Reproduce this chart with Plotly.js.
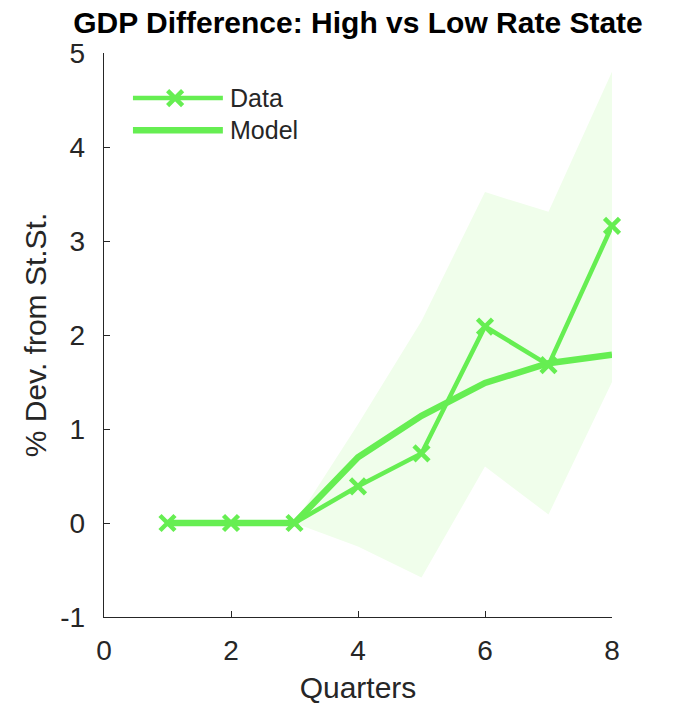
<!DOCTYPE html>
<html>
<head>
<meta charset="utf-8">
<script src="https://cdn.plot.ly/plotly-3.0.1.min.js"></script>
<style>html,body{margin:0;padding:0;background:#fff;}#chart{width:679px;height:704px;}</style>
</head>
<body>
<div id="chart"></div>
<script>
// Data
const quarters = [1, 2, 3, 4, 5, 6, 7, 8];
const dataValues = [0, 0, 0, 0.39, 0.74, 2.09, 1.68, 3.16];
const modelValues = [0, 0, 0, 0.70, 1.14, 1.49, 1.70, 1.79];
const bandQuarters = [3, 4, 5, 6, 7, 8];
const bandUpper = [0, 1.05, 2.15, 3.52, 3.31, 4.80];
const bandLower = [0, -0.25, -0.58, 0.60, 0.09, 1.50];
const xTicks = [0, 2, 4, 6, 8];
const yTicks = [-1, 0, 1, 2, 3, 4, 5];
const seriesNames = ['Data', 'Model'];

const green = 'rgb(102,238,82)';
const bandColor = 'rgb(240,254,235)';
const font = 'Liberation Sans, Arial, sans-serif';
const textColor = '#262626';

const bandX = bandQuarters.concat(bandQuarters.slice().reverse());
const bandY = bandUpper.concat(bandLower.slice().reverse());

const traces = [
  {x: bandX, y: bandY, type: 'scatter', mode: 'lines', fill: 'toself',
   fillcolor: bandColor, line: {width: 0, color: bandColor}, hoverinfo: 'skip', showlegend: false},
  {x: quarters, y: modelValues, type: 'scatter', mode: 'lines', name: seriesNames[1],
   line: {color: green, width: 6.5}, showlegend: false, cliponaxis: false},
  {x: quarters, y: dataValues, type: 'scatter', mode: 'lines+markers', name: seriesNames[0],
   line: {color: green, width: 4.5}, marker: {symbol: 'x-thin', size: 15, line: {color: green, width: 4.5}},
   showlegend: false, cliponaxis: false},
  // legend samples on an overlay axis (0..1 fractions of the plot area)
  {x: [0.057, 0.234], y: [0.920, 0.920], xaxis: 'x2', yaxis: 'y2', type: 'scatter', mode: 'lines',
   line: {color: green, width: 4.5}, showlegend: false, hoverinfo: 'skip', cliponaxis: false},
  {x: [0.140], y: [0.920], xaxis: 'x2', yaxis: 'y2', type: 'scatter', mode: 'markers',
   marker: {symbol: 'x-thin', size: 15, line: {color: green, width: 4.5}}, showlegend: false, hoverinfo: 'skip', cliponaxis: false},
  {x: [0.057, 0.234], y: [0.863, 0.863], xaxis: 'x2', yaxis: 'y2', type: 'scatter', mode: 'lines',
   line: {color: green, width: 6.5}, showlegend: false, hoverinfo: 'skip', cliponaxis: false}
];

const layout = {
  width: 679, height: 704,
  margin: {l: 104, r: 67, t: 53, b: 87},
  paper_bgcolor: '#fff', plot_bgcolor: '#fff',
  showlegend: false,
  title: {text: '<b>GDP Difference: High vs Low Rate State</b>', font: {family: font, size: 30, color: '#000'},
          x: 0.5, xref: 'paper', y: 0.968, yref: 'container', xanchor: 'center', yanchor: 'middle'},
  xaxis: {range: [0, 8], tickvals: xTicks, ticktext: xTicks.map(String), showgrid: false, zeroline: false,
          showline: true, linecolor: textColor, linewidth: 1.2, ticks: 'inside', ticklen: 6, tickcolor: textColor,
          tickfont: {family: font, size: 28, color: textColor}, ticklabelstandoff: 8,
          title: {text: 'Quarters', font: {family: font, size: 30, color: textColor}, standoff: 13}},
  yaxis: {range: [-1, 5], tickvals: yTicks, ticktext: yTicks.map(String), showgrid: false, zeroline: false,
          showline: true, linecolor: textColor, linewidth: 1.2, ticks: 'inside', ticklen: 6, tickcolor: textColor,
          tickfont: {family: font, size: 28, color: textColor}, ticklabelstandoff: 12,
          title: {text: '% Dev. from St.St.', font: {family: font, size: 30, color: textColor}, standoff: 4}},
  xaxis2: {overlaying: 'x', range: [0, 1], visible: false, fixedrange: true},
  yaxis2: {overlaying: 'y', range: [0, 1], visible: false, fixedrange: true},
  annotations: [
    {text: seriesNames[0], xref: 'paper', yref: 'paper', x: 0.244, y: 0.920, xanchor: 'left', yanchor: 'middle',
     showarrow: false, font: {family: font, size: 25, color: textColor}},
    {text: seriesNames[1], xref: 'paper', yref: 'paper', x: 0.244, y: 0.863, xanchor: 'left', yanchor: 'middle',
     showarrow: false, font: {family: font, size: 25, color: textColor}}
  ]
};

Plotly.newPlot('chart', traces, layout, {displayModeBar: false, staticPlot: true});
</script>
</body>
</html>
